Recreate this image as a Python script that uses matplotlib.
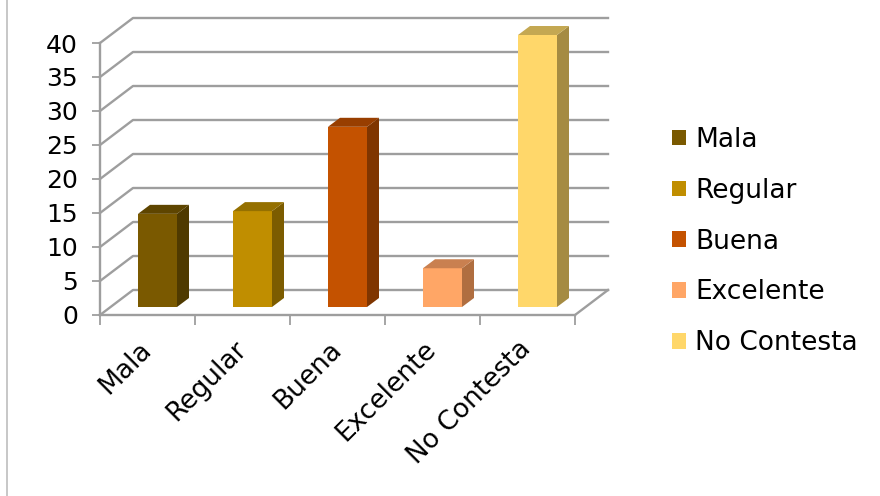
import matplotlib.pyplot as plt
from matplotlib.patches import Polygon, Patch
from matplotlib.lines import Line2D
import numpy as np

# survey answers (percent)
categories = ["Mala", "Regular", "Buena", "Excelente", "No Contesta"]
values = [13.7, 14.1, 26.5, 5.7, 40.0]
front_colors = ["#7A5900", "#C08E00", "#C45200", "#FFA666", "#FFD76A"]
side_colors = ["#4F3A00", "#7C5C00", "#7F3500", "#B06E40", "#A58B42"]
top_colors = ["#5E4500", "#957000", "#983E00", "#C98050", "#C4A852"]
yticks = np.arange(0, 45, 5)

plt.rcParams['font.family'] = ['DejaVu Sans']
grid_c = "#9E9E9E"

fig = plt.figure(figsize=(8.8, 4.96), dpi=100)
# axes placed in pixels: 95 px per category, 6.8 px per unit
ax = fig.add_axes([100/880, 166/496, 520/880, 320/496])
ax.set_xlim(0, 520/95)
ax.set_ylim(-15/6.8, 305/6.8)

# depth of the walls and of the bars (data units)
wall_dx, wall_dy = 33/95, 25/6.8
bar_dx, bar_dy = 12/95, 9/6.8
shift_x, shift_y = 10/95, 8/6.8
width = 39/95
n = len(categories)

# back wall gridlines
for v in yticks:
    ax.plot([0, wall_dx, n + wall_dx], [v, v + wall_dy, v + wall_dy],
            color=grid_c, lw=1.7, zorder=1, clip_on=False)
# floor right edge
ax.plot([n, n + wall_dx], [0, wall_dy], color=grid_c, lw=1.7, zorder=1, clip_on=False)

# bars: front faces, then sides and tops
centers = np.arange(n) + 0.5
bars = ax.bar(centers + shift_x, values, width=width, bottom=shift_y,
              color=front_colors, edgecolor="none", zorder=3)
for i, v in enumerate(values):
    xl = centers[i] + shift_x - width/2
    xr = xl + width
    b, t = shift_y, shift_y + v
    side = Polygon([(xr, b), (xr + bar_dx, b + bar_dy), (xr + bar_dx, t + bar_dy), (xr, t)],
                   closed=True, facecolor=side_colors[i], edgecolor="none", zorder=3)
    top = Polygon([(xl, t), (xl + bar_dx, t + bar_dy), (xr + bar_dx, t + bar_dy), (xr, t)],
                  closed=True, facecolor=top_colors[i], edgecolor="none", zorder=3)
    ax.add_patch(side)
    ax.add_patch(top)

# axes lines
for s in ["top", "right"]:
    ax.spines[s].set_visible(False)
ax.spines["left"].set_position(("data", 0))
ax.spines["left"].set_bounds(0, 40)
ax.spines["bottom"].set_position(("data", 0))
ax.spines["bottom"].set_bounds(0, n)
for s in ["left", "bottom"]:
    ax.spines[s].set_color(grid_c)
    ax.spines[s].set_linewidth(1.7)

ax.set_yticks(yticks)
ax.set_yticklabels([str(v) for v in yticks])
ax.tick_params(axis="y", length=6, width=1.3, color=grid_c, pad=10, labelsize=18)

ax.set_xticks(centers)
ax.set_xticklabels(categories, rotation=45, ha="right", va="center",
                   rotation_mode="anchor", fontsize=19)
ax.set_xticks(np.arange(n + 1), minor=True)
ax.tick_params(axis="x", which="major", length=0, pad=22)
ax.tick_params(axis="x", which="minor", length=7, width=1.3, color=grid_c)
ax.patch.set_visible(False)

handles = [Patch(facecolor=c, edgecolor="none") for c in front_colors]
fig.legend(handles, categories, loc="upper left", bbox_to_anchor=(672/880, 1 - 127/496),
           frameon=False, fontsize=19, borderpad=0, borderaxespad=0,
           handlelength=0.53, handleheight=0.53, handletextpad=0.34, labelspacing=0.94)

# thin border line on the left
fig.add_artist(Line2D([7/880, 7/880], [0, 1], color="#BDBDBD", lw=1.2))

fig.savefig("out.png", dpi=100)
